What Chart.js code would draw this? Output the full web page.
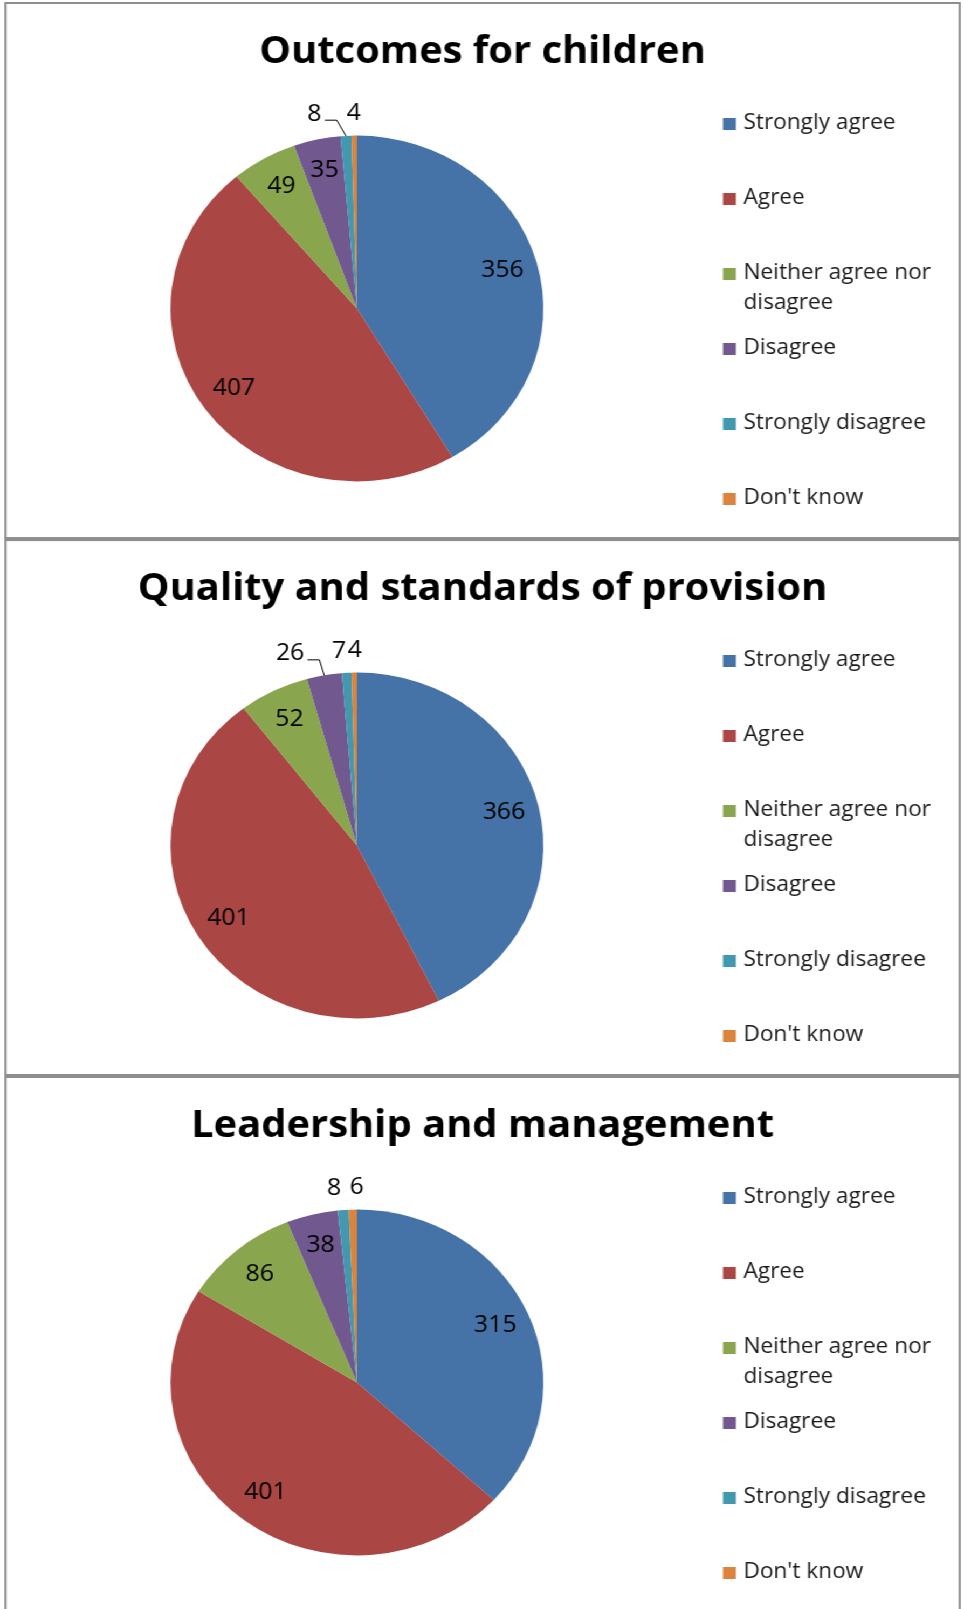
<!DOCTYPE html>
<html>
<head>
<meta charset="utf-8">
<title>Survey pies</title>
<script src="https://cdn.jsdelivr.net/npm/chart.js@4.4.1/dist/chart.umd.min.js"></script>
<style>
  body { margin: 0; background: #fff; overflow: hidden; }
  /* the source picture was stretched sideways, so is this one */
  #page { position: absolute; left: 0; top: 0; width: 893px; height: 1609px;
          transform: scaleX(1.0783); transform-origin: 0 0; }
  .panel { position: absolute; left: 4px; width: 887px; height: 537px;
           box-sizing: border-box; border: 2px solid #8e8e8e; background: #fff; }
  .panel canvas { position: absolute; left: 0; top: 0; }
</style>
</head>
<body>
<div id="page">
  <div class="panel" style="top:2px"><canvas id="pie0" width="883" height="533"></canvas></div>
  <div class="panel" style="top:539px"><canvas id="pie1" width="883" height="533"></canvas></div>
  <div class="panel" style="top:1076px"><canvas id="pie2" width="883" height="533"></canvas></div>
</div>
<script>
const categories = ['Strongly agree', 'Agree', 'Neither agree nor disagree', 'Disagree', 'Strongly disagree', "Don't know"];
const chartTitles = ['Outcomes for children', 'Quality and standards of provision', 'Leadership and management'];
const outcomesValues = [356, 407, 49, 35, 8, 4];
const qualityValues = [366, 401, 52, 26, 7, 4];
const leadershipValues = [315, 401, 86, 38, 8, 6];
const sliceColors = ['#4572A7', '#AA4643', '#89A54E', '#71588F', '#4198AF', '#DB843D'];

const FONT = '"Open Sans", "DejaVu Sans", sans-serif';
const LEGEND_WIDTH = 233;

// legend on the right, as a layout box so the title stays centred on the whole canvas
const sideLegend = {
  id: 'sideLegend',
  beforeInit(chart) {
    const box = {
      options: {}, position: 'right', weight: 0, fullSize: false,
      left: 0, top: 0, right: 0, bottom: 0, width: 0, height: 0,
      isHorizontal() { return false; },
      update(maxW, maxH) { this.width = LEGEND_WIDTH; this.height = maxH; },
      draw() {}
    };
    if (Chart.layouts) {
      Chart.layouts.addBox(chart, box);
    } else {
      box._layers = () => [{ z: 0, draw: () => box.draw() }];
      chart.boxes.push(box);
    }
    chart.$sideLegend = box;
  },
  afterDraw(chart) {
    const box = chart.$sideLegend;
    const ctx = chart.ctx;
    const colors = chart.data.datasets[0].backgroundColor;
    ctx.save();
    ctx.font = '21px ' + FONT;
    ctx.textBaseline = 'middle';
    ctx.textAlign = 'left';
    const x0 = box.left + 14.5;
    chart.data.labels.forEach((label, i) => {
      const y = 119 + i * 75;
      ctx.fillStyle = colors[i];
      ctx.fillRect(x0, y - 5, 12, 12);
      // wrap long labels like the original
      const words = label.split(' ');
      const lines = [];
      let line = '';
      words.forEach(w => {
        const test = line ? line + ' ' + w : w;
        if (line && ctx.measureText(test).width > 195) { lines.push(line); line = w; }
        else line = test;
      });
      lines.push(line);
      ctx.fillStyle = '#1a1a1a';
      lines.forEach((t, k) => ctx.fillText(t, x0 + 19, y + k * 30));
    });
    ctx.restore();
  }
};

// value labels: inside big slices, outside small ones (with a leader line when pushed far)
const pieLabels = {
  id: 'pieLabels',
  afterDatasetsDraw(chart, args, opts) {
    const ctx = chart.ctx;
    const data = chart.data.datasets[0].data;
    const total = data.reduce((a, b) => a + b, 0);
    const shifts = opts.shift || [];
    ctx.save();
    ctx.font = '23px ' + FONT;
    ctx.fillStyle = '#000';
    ctx.strokeStyle = '#000';
    ctx.lineWidth = 1;
    ctx.textAlign = 'center';
    ctx.textBaseline = 'middle';
    chart.getDatasetMeta(0).data.forEach((arc, i) => {
      const p = arc.getProps(['x', 'y', 'startAngle', 'endAngle', 'outerRadius'], true);
      const mid = (p.startAngle + p.endAngle) / 2;
      const outside = data[i] / total < 0.035;
      const r = p.outerRadius * (outside ? 1.12 : 0.81);
      const shift = shifts[i] || 0;
      const lx = p.x + Math.cos(mid) * r + shift;
      const ly = p.y + Math.sin(mid) * r - 1;
      ctx.fillText(String(data[i]), lx, ly);
      if (Math.abs(shift) > 15) {
        const half = ctx.measureText(String(data[i])).width / 2;
        ctx.beginPath();
        ctx.moveTo(lx + half + 3, ly + 6);
        ctx.lineTo(lx + half + 14, ly + 6);
        ctx.lineTo(p.x + Math.cos(mid) * p.outerRadius, p.y + Math.sin(mid) * p.outerRadius);
        ctx.stroke();
      }
    });
    ctx.restore();
  }
};

function makePie(id, title, values, shift) {
  new Chart(document.getElementById(id), {
    type: 'pie',
    data: {
      labels: categories,
      datasets: [{ data: values, backgroundColor: sliceColors, borderWidth: 0 }]
    },
    options: {
      responsive: false,
      animation: false,
      events: [],
      layout: { padding: { top: 0, bottom: 55.6, left: 0, right: 0 } },
      plugins: {
        legend: { display: false },
        tooltip: { enabled: false },
        title: {
          display: true,
          text: title,
          color: '#000',
          font: { family: FONT, size: 37, weight: 'bold', lineHeight: 1.2 },
          padding: { top: 26, bottom: 61.2 }
        },
        pieLabels: { shift: shift }
      }
    },
    plugins: [sideLegend, pieLabels]
  });
}

makePie('pie0', chartTitles[0], outcomesValues, [0, 0, 0, 0, -28, 0]);
makePie('pie1', chartTitles[1], qualityValues, [0, 0, 0, -28, -6, 1]);
makePie('pie2', chartTitles[2], leadershipValues, [0, 0, 0, 0, -7, 4]);
</script>
</body>
</html>
